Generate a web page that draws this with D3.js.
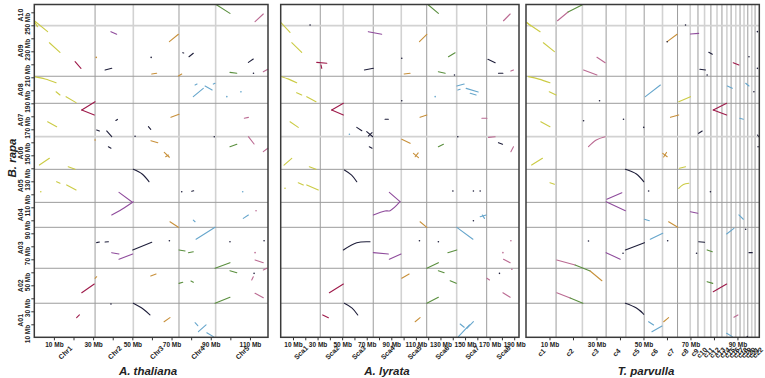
<!DOCTYPE html>
<html>
<head>
<meta charset="utf-8">
<script src="https://cdn.jsdelivr.net/npm/d3@7"></script>
<style>
  body { margin: 0; background: #fff; }
  text { font-family: "Liberation Sans", Arial, sans-serif; fill: #222; }
</style>
</head>
<body>
<div id="plot"></div>
<script>
let width  = 765,
    height = 378;

// B. rapa chromosomes (y axis), lengths in Mb
let rapaChr = ["A01","A02","A03","A04","A05","A06","A07","A08","A09","A10"];
let rapaLen = [26.2, 26.9, 31.5, 19.2, 25.4, 25.1, 25.7, 20.8, 38.9, 16.3];

// x axis genomes
let thalChr = ["Chr1","Chr2","Chr3","Chr4","Chr5"];
let thalLen = [31, 19.5, 23.3, 18.7, 26.7];

let lyrChr = ["Sca1","Sca2","Sca3","Sca4","Sca5","Sca6","Sca7","Sca8"];
let lyrLen = [32.2, 18.7, 24.4, 22.8, 20.7, 24.4, 24.4, 26.3];

let parChr = d3.range(1, 23).map(function(i) { return "c" + i; });
let parLen = [12.8, 11.2, 10.1, 8.4, 7.8, 7.8, 6.4, 5.4, 3.3, 2.8, 2.7,
              2.6, 2.1, 2.1, 1.8, 2.0, 1.8, 1.7, 1.6, 1.7, 1.4, 1.8];

// block colours
let palette = {
  Y: "#cbcb44", R: "#9e1a4a", P: "#8f4c9c", M: "#bb6a92",
  O: "#c8903a", N: "#1e1e3a", G: "#5a8f3e", B: "#66a6cc"
};

// synteny blocks: [colour, x1, y1, x2, y2, ...] in Mb (cumulative)
let thalSegs = [
  ["G",92.7,256,99.8,249.2], ["M",112.6,242.8,116.8,248.7], ["Y",0,243.5,6.8,235.1],
  ["Y",0.4,242,1.6,239], ["P",39.1,235.1,42,233.1], ["O",68.9,227.4,73.5,233.1],
  ["Y",7.7,226.6,13.1,219.2], ["N",75.7,218.9,76.2,218.7], ["N",78.9,215.8,81.1,218.5],
  ["N",59.6,215.3], ["R",20.8,212,23.8,206.9], ["O",31.6,215.3],
  ["N",36.1,205.6,39.5,206.9], ["N",109.2,211.5,111.7,214.1], ["O",59.9,202.5,62.4,203.1],
  ["O",73.5,201,75.2,202.5], ["G",99.8,203.8,103.3,203.1], ["N",111.8,203.1],
  ["M",116.8,204.3,119.1,206.2], ["Y",0,200.5,5.5,198.7,11.1,195.8], ["Y",11.1,188.9,13.1,186.4],
  ["Y",16.2,185.1,21.3,180.5], ["B",81.1,185.1,86.2,191.5], ["B",87.1,193.3,90.7,190.2],
  ["B",91.3,194.8,92.2,195.4], ["B",82,194.1,83,194.8], ["B",105.4,188.8],
  ["B",98.2,185.1], ["R",24.2,174.8,31,181.2], ["R",24.2,174.8,30.6,171],
  ["Y",6.8,165.8,11.4,162], ["N",41.6,166.8,42.4,167.6], ["O",69.7,169.2,73.8,171.5],
  ["M",107.1,168.5,109.2,169.2], ["N",31.8,159.5,33.2,158.7], ["N",36.9,158.7,39.5,154.3],
  ["N",58.2,162,59.4,160], ["N",51.4,154.7], ["N",91.8,154.3],
  ["M",109.2,154.3,112.1,148.7], ["O",59.5,151.2,63,149.7], ["O",31,151.8],
  ["N",37.8,146.6,39.1,145.4], ["G",99.8,146.6,103.3,148.5], ["M",116.8,142.8,119.1,145.4],
  ["O",66.3,142.3,68.9,138.5], ["O",67,138.9,68.4,140.2], ["Y",2.6,132.5,7.7,137.7],
  ["Y",17.3,131.2,20.8,129.2], ["N",50.5,129.2,55,125.6,58.5,119.7], ["Y",11.4,119.7,13.1,118.5],
  ["Y",16.5,117.2,21.3,113.3], ["Y",3.3,112], ["N",75.2,112],
  ["N",80.3,112.3,81.3,112.7], ["B",106.3,112], ["P",43.2,111.5,49.7,104.3],
  ["P",39.5,94.1,44.7,98.5,50.5,104.3], ["O",69.2,88.9,73.5,84.6], ["B",81.1,90.2,82,88.9],
  ["B",106.6,91.5,109.2,94.1], ["M",113.1,97.4], ["B",82.5,75.4,92.2,84.6],
  ["N",31.8,72.8,33.2,73.3], ["N",36.1,73.3,37.8,73.5], ["N",50.2,67.2,59.9,73.1],
  ["N",68.9,74.3], ["G",73.8,67.2,76.9,66.4], ["G",78.6,65.1,81.1,65.8],
  ["P",39.5,65.1,43.2,64.1], ["P",43.2,60,50.2,64.1], ["N",99.8,73.5],
  ["N",117.2,74.3], ["M",112.6,59.5,116.8,57.4], ["M",112.6,65.1],
  ["G",92.2,53.1,99.8,57.4], ["G",99.8,51.2,103.3,49.7], ["M",116.8,51.8,118.6,53.1],
  ["N",112.1,49.2], ["M",110.9,44.1,111.7,46.6], ["O",59.4,47.2,62.1,48.7],
  ["G",73.8,41.5,75.7,42.3], ["G",79.9,43.3,81.1,42.3], ["R",24.2,34.3,30.6,41],
  ["O",31,45.4,31.8,46.6], ["M",112.6,33.8,116.8,30.5], ["G",92.2,26.2,99.8,30.8],
  ["N",50.5,26.2,55.5,21.8,59,17.2], ["R",21.6,15.1,23,17.2], ["O",66.2,12,69.2,15.1],
  ["B",82,11.2,83.4,8.9], ["B",83.7,4.3,87.6,9.5], ["B",88,3.5,91.3,0.5],
  ["N",39.1,25.6]
];

let lyrSegs = [
  ["G",120.2,255.6,128.3,249.2], ["M",181.3,243.5,186.7,248.7], ["Y",0.2,242,7.6,234.6],
  ["N",23.9,240.2], ["P",71.3,235.1,82.2,233.1], ["O",112.9,227.4,118.9,233.1],
  ["Y",9,226.6,17.1,219.2], ["G",136.5,215.8,141.9,218.9], ["N",98.5,214.6],
  ["N",168.6,213.8,174.5,211.2], ["R",29.3,211.5,37.5,210.8], ["R",32.8,209.5,33.4,206.9],
  ["N",68.1,205.6,75.4,206.9], ["O",100.4,202.5,105.3,203.1], ["G",128.3,204.3,133.8,203.1],
  ["N",141.4,201.8], ["N",177.2,203.1,180.8,203.1], ["M",187.3,204.8,189.4,205.6],
  ["Y",0.8,200.5,6.5,198.6,13,195.8], ["Y",13,188.2,17.1,186.4], ["Y",21.2,185.1,28.7,181.2],
  ["B",143.3,193.3,149.3,194.8], ["B",150.9,191.5,160.7,188.7], ["B",154.2,187.7,159,186.4],
  ["B",144.1,190.2,146,190.8], ["N",98.5,182], ["B",125.7,185.1],
  ["R",41.5,174.8,51,180], ["R",41.5,174.8,51,171], ["Y",7.6,165.8,14.3,161.5],
  ["N",84.9,167.7,87.6,167.7], ["O",113.4,169.2,118.9,171], ["M",163.7,168.5,167.8,168.5],
  ["N",61.9,161.5,66,158.9], ["N",70,158.2,74.9,154.3], ["N",71.3,154.8,74.3,157.4],
  ["B",55.9,156.2], ["N",144.1,154.3], ["M",169.1,153.8,174.5,154.3],
  ["N",177.2,149.7,180.5,148.5], ["M",187.3,142.8,189.4,146.6], ["O",98.5,152.3,105.3,149.2],
  ["N",72.1,146.6,74.3,145.4], ["G",128.3,146.6,132.4,148.5], ["O",108,141.5,112.1,138.2],
  ["O",109.4,138.9,111.9,141.8], ["Y",2.7,132.5,9,137.7], ["Y",23.3,131.2,28.7,129.2],
  ["N",51.8,128.7,57.7,124.8,61.9,119.7], ["Y",14.3,118.9,18.4,117.2], ["Y",21.2,117.2,30.6,113.3],
  ["N",140.1,112.5], ["N",156.8,112.5], ["N",162.3,112.5],
  ["Y",3.5,114.6], ["P",88.4,111.5,97.1,104.3], ["P",75.4,94.1,84.9,97.2,89,97.4,97.1,104.3],
  ["O",113.4,88.9,118.9,84.6], ["B",162.3,92.8,167.2,94.1], ["B",164.1,94.1,165.8,91.5],
  ["N",156.8,89.7], ["B",143.3,84.6,156.4,75.4], ["N",51,67.2,61.9,72.8,72.7,73.5],
  ["N",112.9,74.3], ["N",128.3,73.5], ["G",136,65.1,143.3,67.2],
  ["P",75.4,65.1,87.6,64.1], ["P",88.4,60,97.9,64.1], ["M",187.3,74.3],
  ["M",180.8,65.1], ["M",181.3,60,186.7,57.4], ["G",118.9,53.1,128.3,57.4],
  ["G",128.3,51.2,133,49.7], ["N",178,49.2], ["M",188.1,52.3],
  ["O",98.5,45.4,104.5,48.7], ["G",137.9,43.5,142.8,41.5], ["M",167.8,45.4,169.9,44.1],
  ["R",39.6,34.3,51,41], ["M",180.8,34.3,186.7,30.8], ["G",118.9,26.2,128.3,30.8],
  ["N",51.8,26.2,58.1,22.5,62.7,17.2], ["R",34.2,17.2,38.8,15.1], ["O",109.4,12,113.4,15.1],
  ["B",146,10.2,149.3,7.7], ["B",144.6,0.5,153.6,9.5], ["B",151.5,6.9,156.8,12]
];

let parSegs = [
  ["M",13.4,243.5,17.9,250.2], ["G",17.9,250.2,23.8,255.6], ["Y",0.3,242,6,235.1],
  ["Y",0.5,242,2,239.5], ["P",70,233.3,73.5,233.8], ["N",67.9,240.2],
  ["O",60.1,227.4,64.3,233.1], ["N",60.1,227.4], ["Y",7.4,226.6,12.1,219.7],
  ["N",77.8,219.2,79.3,217.7], ["N",94.9,215.8], ["M",30.2,215.4,33.7,211.2],
  ["R",88.2,211.2,90.6,209.5], ["N",98.5,235.1], ["N",98.5,206.9],
  ["M",24.5,205.6,30.2,201.8], ["N",74,206.2,76.4,205.6], ["N",77.1,201.8],
  ["Y",1,200.5,5.5,198.6,10.2,195.8], ["Y",9.9,188.9,12.8,186.4], ["B",50.8,185.1,57.2,194.1],
  ["B",85.7,193.3,87.8,191.5], ["B",93.5,195.4,94.9,193.3], ["N",97,188.9],
  ["Y",65,181.2,70,185.1], ["N",31.3,182], ["R",79.7,174.8,85.4,180],
  ["R",79.7,174.8,85.4,171], ["O",61.5,169.2,65,171], ["B",91,168.5,92.5,167.7],
  ["N",41.5,167.7], ["N",24.5,166.6], ["N",50.1,161.5],
  ["Y",6.3,165.8,10.2,162], ["N",73.5,156.9,75,158.7], ["M",26.6,146.6,29.9,151.8,33.7,154.3],
  ["N",98.5,155.6,99.1,154.3], ["N",98.8,146.6], ["O",58.2,141.5,60.1,138.9],
  ["O",58.6,138.7,59.8,142.2], ["Y",2.4,132.5,7,137.7], ["Y",65.3,130,67.9,131.2],
  ["N",42.3,129.2,47,125.6,50.1,119.7], ["Y",10.2,118.9,12.1,117.7], ["Y",65,114.6,67,117.5,69.3,118.5],
  ["N",52.2,112.5], ["N",78.5,112], ["P",34.4,106.2,40.8,111.2],
  ["P",34.1,104.3,42.3,97.4], ["P",70,96.6,73.1,95.4], ["B",50.4,90.8,52.5,89.7],
  ["B",90.6,94.1,92.5,90.8], ["O",60.7,88.9,64.6,84.6], ["N",93.5,83.1],
  ["B",85.4,79.5,88.5,83.8], ["B",52.9,75.4,58.2,80], ["N",42.3,67.2,50.4,72.8],
  ["N",60.3,74.3], ["N",73.5,73.5,76,73.1], ["G",77.1,67.2,79.3,65.8],
  ["N",94.9,65.1,96.3,65.1], ["N",26.6,74.1], ["P",34.1,65.1,40.1,60],
  ["N",41.3,64.6], ["N",72.6,64.6], ["M",13.1,59.5,20.9,55.6],
  ["G",20.9,55.6,27.3,51], ["O",27.3,51,32.3,43.5], ["G",77.1,42.8,79.5,41.5],
  ["R",79.7,35.1,85.4,41], ["M",13.1,34.3,18.8,30.2], ["G",18.8,30.2,24.2,26.2],
  ["N",42.3,26.2,47,22.5,50.1,17.7], ["M",88.5,15.4,90.2,17.2], ["B",52.2,12,54.3,9.5],
  ["O",58.6,12,60.7,15.1], ["B",53.6,4.3,57.9,8.7], ["B",85.4,3.1,87.8,0.5],
  ["N",94.2,0.5]
];

let panels = [
  { title: "A. thaliana", chr: thalChr, len: thalLen, segs: thalSegs, left: 34.3,  right: 268,   titleX: 148 },
  { title: "A. lyrata",   chr: lyrChr,  len: lyrLen,  segs: lyrSegs,  left: 280.7, right: 519,   titleX: 387 },
  { title: "T. parvulla", chr: parChr,  len: parLen,  segs: parSegs,  left: 526,   right: 759.3, titleX: 646 }
];

let rapaTotal = d3.sum(rapaLen),
    rapaEnds  = Array.from(d3.cumsum(rapaLen));

let y = d3.scaleLinear()
  .domain([0, rapaTotal])
  .range([337.3, 4.5]);

let svg =
  d3.select("#plot")
    .append("svg")
      .attr("width", width)
      .attr("height", height);

panels.forEach(function(p, pi) {
  let total = d3.sum(p.len),
      ends  = Array.from(d3.cumsum(p.len));

  let x = d3.scaleLinear()
    .domain([0, total])
    .range([p.left, p.right]);

  let g = svg.append("g");

  // chromosome boundaries
  g.selectAll(".vgrid")
    .data(ends.slice(0, -1))
    .enter()
    .append("line")
      .attr("x1", function(d) { return x(d); })
      .attr("x2", function(d) { return x(d); })
      .attr("y1", y(0))
      .attr("y2", y(rapaTotal))
      .attr("stroke", function(d, i) { return i % 2 ? "#d2d2d2" : "#9c9c9c"; })
      .attr("stroke-width", function(d, i) { return i % 2 ? 1.6 : 1; });

  g.selectAll(".hgrid")
    .data(rapaEnds.slice(0, -1))
    .enter()
    .append("line")
      .attr("x1", p.left)
      .attr("x2", p.right)
      .attr("y1", function(d) { return y(d); })
      .attr("y2", function(d) { return y(d); })
      .attr("stroke", function(d, i) { return (i === 5 || i === 8) ? "#d2d2d2" : "#9c9c9c"; })
      .attr("stroke-width", function(d, i) { return (i === 5 || i === 8) ? 1.8 : 1; });

  // blocks
  let line = d3.line()
    .x(function(d) { return x(d[0]); })
    .y(function(d) { return y(d[1]); })
    .curve(d3.curveCatmullRom);

  let pts = function(s) {
    let out = [];
    for (let k = 1; k < s.length; k += 2) out.push([s[k], s[k + 1]]);
    return out;
  };

  g.selectAll(".seg")
    .data(p.segs.filter(function(s) { return s.length > 3; }))
    .enter()
    .append("path")
      .attr("d", function(s) { return line(pts(s)); })
      .attr("fill", "none")
      .attr("stroke", function(s) { return palette[s[0]]; })
      .attr("stroke-width", 1.1)
      .attr("stroke-linecap", "round");

  g.selectAll(".dot")
    .data(p.segs.filter(function(s) { return s.length === 3; }))
    .enter()
    .append("circle")
      .attr("cx", function(s) { return x(s[1]); })
      .attr("cy", function(s) { return y(s[2]); })
      .attr("r", 0.8)
      .attr("fill", function(s) { return palette[s[0]]; });

  // frame
  g.append("rect")
    .attr("x", p.left)
    .attr("y", y(rapaTotal))
    .attr("width", p.right - p.left)
    .attr("height", y(0) - y(rapaTotal))
    .attr("fill", "none")
    .attr("stroke", "#3a3a3a")
    .attr("stroke-width", 1.5);

  // Mb axis
  let xAxis = d3.axisBottom(x)
    .tickValues(d3.range(10, total, 10))
    .tickSize(3)
    .tickPadding(2)
    .tickFormat(function(d) { return (d / 10) % 2 === 1 ? d + " Mb" : ""; });

  let ax = g.append("g")
    .attr("transform", translate(0, y(0)))
    .call(xAxis);
  ax.select(".domain").remove();
  ax.selectAll("line").attr("stroke", "#333");
  ax.selectAll("text")
    .style("font-size", "6.5px")
    .style("font-weight", "bold")
    .attr("fill", "#222");

  // chromosome names
  g.selectAll(".chr")
    .data(p.chr)
    .enter()
    .append("text")
      .attr("transform", function(d, i) {
        let mid = (ends[i] - p.len[i] / 2);
        return translate(x(mid) + 1, 353) + " rotate(-45)";
      })
      .attr("text-anchor", "middle")
      .attr("dominant-baseline", "middle")
      .style("font-size", "7px")
      .style("font-weight", "bold")
      .text(function(d) { return d; });

  g.append("text")
    .attr("x", p.titleX)
    .attr("y", 375)
    .attr("text-anchor", "middle")
    .style("font-size", "11.5px")
    .style("font-weight", "bold")
    .style("font-style", "italic")
    .text(p.title);

  if (pi === 0) {
    let yAxis = d3.axisLeft(y)
      .tickValues(d3.range(10, rapaTotal, 10))
      .tickSize(3)
      .tickFormat(function(d) { return (d / 10) % 2 === 1 ? d + " Mb" : ""; });

    let ay = g.append("g")
      .attr("transform", translate(p.left, 0))
      .call(yAxis);
    ay.select(".domain").remove();
    ay.selectAll("line").attr("stroke", "#333");
    ay.selectAll("text")
      .attr("transform", "rotate(-90)")
      .attr("x", 0)
      .attr("y", -4)
      .attr("dy", 0)
      .attr("text-anchor", "end")
      .attr("fill", "#222")
      .style("font-size", "6.5px")
      .style("font-weight", "bold");

    g.selectAll(".rchr")
      .data(rapaChr)
      .enter()
      .append("text")
        .attr("transform", function(d, i) {
          return translate(23, y(rapaEnds[i] - rapaLen[i] / 2)) + " rotate(-90)";
        })
        .attr("text-anchor", "middle")
        .style("font-size", "7px")
        .style("font-weight", "bold")
        .text(function(d) { return d; });

    g.append("text")
      .attr("transform", translate(16, 158) + " rotate(-90)")
      .attr("text-anchor", "middle")
      .style("font-size", "11.5px")
      .style("font-weight", "bold")
      .style("font-style", "italic")
      .text("B. rapa");
  }
});

function translate(x, y=0) {
  return "translate({x}, {y})"
          .replace("{x}", x)
          .replace("{y}", y);
}
</script>
</body>
</html>
